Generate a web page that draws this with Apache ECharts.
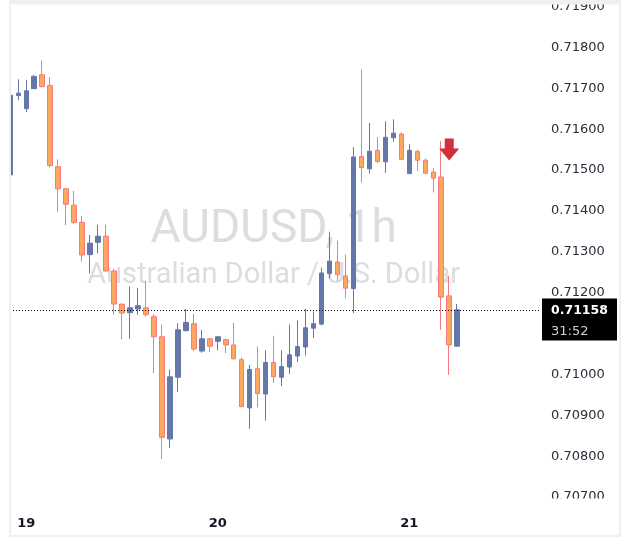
<!DOCTYPE html>
<html><head><meta charset="utf-8">
<style>html,body{margin:0;padding:0;background:#fff}#c{width:629px;height:558px}</style>
<script src="https://cdn.jsdelivr.net/npm/echarts/dist/echarts.min.js"></script>
</head><body><div id="c"></div>
<script>
// Hourly AUDUSD candles (18 22:00 .. 21 06:00)
const openP  = [0.71488,0.71682,0.71650,0.71699,0.71733,0.71707,0.71508,0.71454,0.71414,0.71372,
                0.71293,0.71323,0.71338,0.71253,0.71172,0.71151,0.71160,0.71163,0.71141,0.71092,
                0.70842,0.70993,0.71107,0.71124,0.71057,0.71087,0.71081,0.71085,0.71072,0.71036,
                0.70918,0.71014,0.70952,0.71029,0.70993,0.71018,0.71045,0.71067,0.71113,0.71123,
                0.71247,0.71275,0.71241,0.71210,0.71533,0.71503,0.71548,0.71520,0.71579,0.71588,
                0.71491,0.71545,0.71524,0.71495,0.71483,0.71192,0.71069];
const highP  = [0.71752,0.71722,0.71720,0.71733,0.71768,0.71727,0.71526,0.71455,0.71449,0.71388,
                0.71341,0.71366,0.71366,0.71258,0.71173,0.71215,0.71211,0.71229,0.71148,0.71122,
                0.71012,0.71125,0.71160,0.71148,0.71109,0.71088,0.71093,0.71086,0.71126,0.71042,
                0.71023,0.71068,0.71059,0.71094,0.71059,0.71122,0.71132,0.71161,0.71154,0.71261,
                0.71349,0.71327,0.71293,0.71556,0.71746,0.71615,0.71580,0.71619,0.71624,0.71592,
                0.71563,0.71550,0.71528,0.71504,0.71571,0.71241,0.71172];
const lowP   = [0.71481,0.71671,0.71642,0.71698,0.71702,0.71506,0.71398,0.71365,0.71368,0.71276,
                0.71247,0.71296,0.71252,0.71146,0.71086,0.71087,0.71146,0.71141,0.71003,0.70793,
                0.70820,0.70957,0.71105,0.71057,0.71053,0.71054,0.71059,0.71052,0.71037,0.70920,
                0.70867,0.70919,0.70887,0.70979,0.70971,0.71001,0.71030,0.71046,0.71089,0.71120,
                0.71235,0.71229,0.71186,0.71150,0.71469,0.71491,0.71517,0.71493,0.71569,0.71525,
                0.71490,0.71498,0.71491,0.71445,0.71109,0.70999,0.71068];
const closeP = [0.71683,0.71688,0.71694,0.71729,0.71704,0.71511,0.71454,0.71416,0.71372,0.71292,
                0.71321,0.71338,0.71253,0.71172,0.71150,0.71163,0.71168,0.71146,0.71092,0.70846,
                0.70994,0.71109,0.71127,0.71062,0.71087,0.71069,0.71092,0.71072,0.71038,0.70921,
                0.71012,0.70953,0.71029,0.70994,0.71019,0.71048,0.71068,0.71114,0.71124,0.71248,
                0.71277,0.71244,0.71211,0.71532,0.71506,0.71546,0.71521,0.71580,0.71590,0.71526,
                0.71548,0.71524,0.71492,0.71480,0.71189,0.71072,0.71158];
const dayTicks = ['19','20','21'];
const yTicks = {min:0.707, max:0.719, step:0.001};
const lastPrice = 0.71158;
const countdown = '31:52';
const signal = {index:55, price:0.7155};   // red sell arrow
const title = 'AUDUSD, 1h';
const subtitle = 'Australian Dollar / U.S. Dollar';

// time slots: 18 22:00 onward, 67 hourly slots (last ones are future, empty)
const categories = [];
{ let d = 18, h = 22;
  for (let i = 0; i < 67; i++) {
    categories.push(d + ' ' + String(h).padStart(2,'0') + ':00');
    h++; if (h === 24) { h = 0; d++; }
  } }
const candles = categories.map((c, i) => i < openP.length ? [openP[i], closeP[i], lowP[i], highP[i]] : '-');

const chart = echarts.init(document.getElementById('c'), null, {renderer:'canvas'});
const FONT = 'DejaVu Sans';
chart.setOption({
  animation:false,
  grid:{left:6.3, right:88, top:5, bottom:61},
  xAxis:{type:'category', data:categories, boundaryGap:true, z:12,
    axisLine:{show:false}, axisTick:{show:false}, splitLine:{show:false},
    axisLabel:{interval:(i,v)=>v.endsWith(' 00:00') && dayTicks.includes(v.split(' ')[0]),
      formatter:v=>v.split(' ')[0], color:'#131722', fontFamily:FONT, fontWeight:'bold', fontSize:13, margin:20}},
  yAxis:{type:'value', position:'right', min:yTicks.min, max:yTicks.max, interval:yTicks.step, scale:true,
    axisLine:{show:false}, axisTick:{show:false}, splitLine:{show:false},
    axisLabel:{formatter:v=>v.toFixed(5), color:'#2a2e39', fontFamily:FONT, fontSize:13, margin:10}},
  series:[{
    type:'candlestick', data:candles, barWidth:5, silent:true,
    itemStyle:{color:'#6476aa', color0:'#fda75f', borderColor:'#6476aa', borderColor0:'#f7787f', borderWidth:1},
    markPoint:{silent:true, label:{show:false},
      data:[{coord:[categories[signal.index], signal.price],
        symbol:'path://M5.5,0 L14.5,0 L14.5,10 L20,10 L10,22 L0,10 L5.5,10 Z',
        symbolSize:[20,22], symbolKeepAspect:false, itemStyle:{color:'#d22f3d'}}]}
  }]
});

const py = Math.round(chart.convertToPixel({yAxisIndex:0}, lastPrice)) + 0.5;
const x0 = chart.convertToPixel({xAxisIndex:0}, categories[0]);
const x1 = chart.convertToPixel({xAxisIndex:0}, categories[categories.length-1]);
const cx = (x0 + x1)/2;
chart.setOption({graphic:[
  {type:'text', z:0, x:cx, y:230, style:{text:title, fill:'#dcdde1', font:'46px Roboto', align:'center', verticalAlign:'middle'}},
  {type:'text', z:0, x:cx, y:276, style:{text:subtitle, fill:'#dcdde1', font:'29px Roboto', align:'center', verticalAlign:'middle'}},
  {type:'line', z:5, shape:{x1:10, y1:py, x2:541, y2:py}, style:{stroke:'#000', lineWidth:1, lineDash:[1,2]}},
  {type:'rect', z:10, shape:{x:11, y:498.5, width:608, height:36.5}, style:{fill:'#fff'}},
  {type:'rect', z:10, shape:{x:0, y:0, width:9, height:558}, style:{fill:'#fff'}},
  {type:'rect', z:11, shape:{x:10, y:0, width:610, height:4.5}, style:{fill:'#f0f0f2'}},
  {type:'rect', z:11, shape:{x:10, y:1, width:610, height:535}, style:{fill:null, stroke:'#f0f0f2', lineWidth:2}},
  {type:'rect', z:20, shape:{x:542, y:py-12, width:75, height:42}, style:{fill:'#000'}},
  {type:'text', z:21, x:551, y:py, style:{text:lastPrice.toFixed(5), fill:'#fff', font:'bold 12.5px "DejaVu Sans"', verticalAlign:'middle'}},
  {type:'text', z:21, x:551, y:py+21, style:{text:countdown, fill:'#d0d0d0', font:'13px "DejaVu Sans"', verticalAlign:'middle'}}
]});
</script>
</body></html>
